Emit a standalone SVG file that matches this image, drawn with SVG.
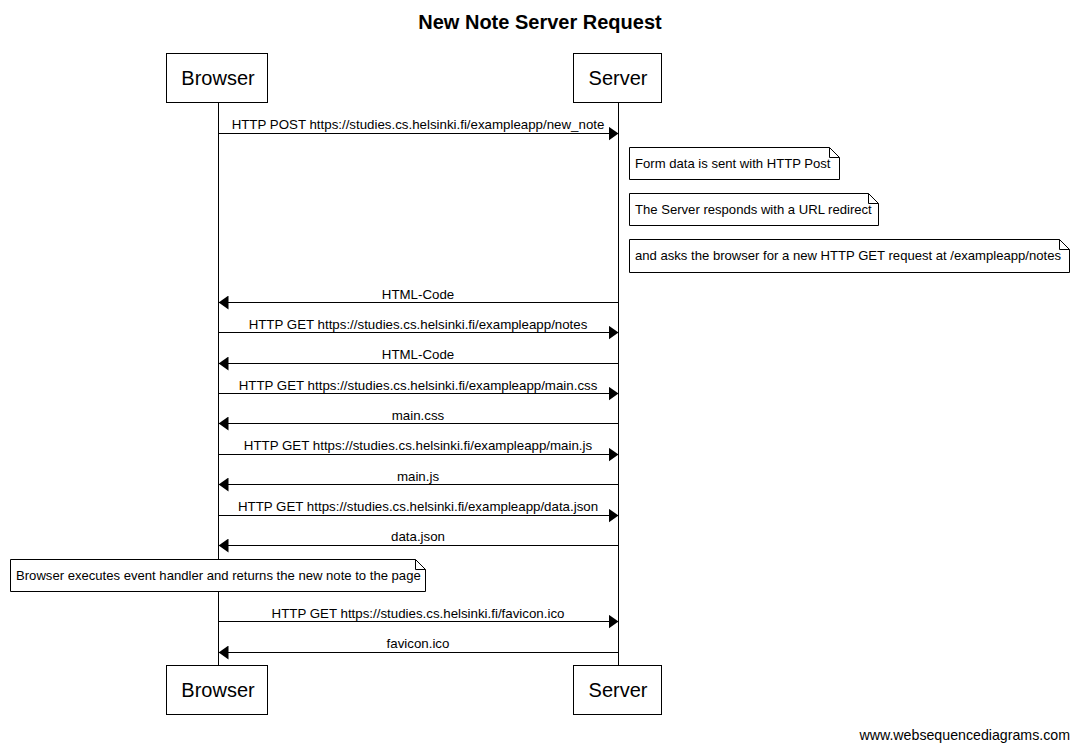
<svg xmlns="http://www.w3.org/2000/svg" width="1079" height="749" viewBox="0 0 1079 749">
<defs>
<marker id="ah" markerWidth="10" markerHeight="14" refX="10" refY="7" orient="auto" markerUnits="userSpaceOnUse">
<path d="M0,0 L10,7 L0,14 Z" fill="#000"/>
</marker>
<style>
.box{fill:#fff;stroke:#000;stroke-width:1}
.pt{font-family:"Liberation Sans",Arial,sans-serif;font-size:20px;text-anchor:middle}
.lbl{font-family:"Liberation Sans",Arial,sans-serif;font-size:13.3px;text-anchor:middle}
.nt{font-family:"Liberation Sans",Arial,sans-serif;font-size:13.1px}
.life{stroke:#000;stroke-width:1}
.msg{stroke:#000;stroke-width:1;fill:none;marker-end:url(#ah)}
.note{fill:#fff;stroke:#000;stroke-width:1}
</style>
</defs>
<rect width="1079" height="749" fill="#fff"/>
<text x="540" y="29" font-family="Liberation Sans,Arial,sans-serif" font-size="20" font-weight="bold" text-anchor="middle">New Note Server Request</text>
<g id="lifelines">
<line class="life" x1="218.5" y1="102" x2="218.5" y2="665"/>
<line class="life" x1="618.5" y1="102" x2="618.5" y2="665"/>
</g>
<g id="browser-top"><rect class="box" x="166.5" y="53.5" width="101" height="49"/><text class="pt" x="218" y="85">Browser</text></g>
<g id="server-top"><rect class="box" x="573.5" y="53.5" width="88" height="49"/><text class="pt" x="618" y="85">Server</text></g>
<g id="browser-bottom"><rect class="box" x="166.5" y="665.5" width="101" height="49"/><text class="pt" x="218" y="697">Browser</text></g>
<g id="server-bottom"><rect class="box" x="573.5" y="665.5" width="88" height="49"/><text class="pt" x="618" y="697">Server</text></g>
<g id="connectors">
<line class="msg" x1="218.5" y1="133.5" x2="618.5" y2="133.5"/>
<text class="lbl" x="418" y="129">HTTP POST https://studies.cs.helsinki.fi/exampleapp/new_note</text>
<line class="msg" x1="618.5" y1="302.5" x2="218.5" y2="302.5"/>
<text class="lbl" x="418" y="299">HTML-Code</text>
<line class="msg" x1="218.5" y1="332.5" x2="618.5" y2="332.5"/>
<text class="lbl" x="418" y="329">HTTP GET https://studies.cs.helsinki.fi/exampleapp/notes</text>
<line class="msg" x1="618.5" y1="363.5" x2="218.5" y2="363.5"/>
<text class="lbl" x="418" y="359">HTML-Code</text>
<line class="msg" x1="218.5" y1="393.5" x2="618.5" y2="393.5"/>
<text class="lbl" x="418" y="390">HTTP GET https://studies.cs.helsinki.fi/exampleapp/main.css</text>
<line class="msg" x1="618.5" y1="423.5" x2="218.5" y2="423.5"/>
<text class="lbl" x="418" y="420">main.css</text>
<line class="msg" x1="218.5" y1="454.5" x2="618.5" y2="454.5"/>
<text class="lbl" x="418" y="450">HTTP GET https://studies.cs.helsinki.fi/exampleapp/main.js</text>
<line class="msg" x1="618.5" y1="484.5" x2="218.5" y2="484.5"/>
<text class="lbl" x="418" y="481">main.js</text>
<line class="msg" x1="218.5" y1="515.5" x2="618.5" y2="515.5"/>
<text class="lbl" x="418" y="511">HTTP GET https://studies.cs.helsinki.fi/exampleapp/data.json</text>
<line class="msg" x1="618.5" y1="545.5" x2="218.5" y2="545.5"/>
<text class="lbl" x="418" y="541">data.json</text>
<line class="msg" x1="218.5" y1="621.5" x2="618.5" y2="621.5"/>
<text class="lbl" x="418" y="618">HTTP GET https://studies.cs.helsinki.fi/favicon.ico</text>
<line class="msg" x1="618.5" y1="652.5" x2="218.5" y2="652.5"/>
<text class="lbl" x="418" y="648">favicon.ico</text>
</g>
<g id="note1"><path class="note" d="M629.5,147.5 H829.5 L839.5,157.5 V179.5 H629.5 Z M829.5,147.5 V157.5 H839.5"/><text class="nt" x="635" y="168">Form data is sent with HTTP Post</text></g>
<g id="note2"><path class="note" d="M629.5,193.5 H868.5 L878.5,203.5 V225.5 H629.5 Z M868.5,193.5 V203.5 H878.5"/><text class="nt" x="635" y="214">The Server responds with a URL redirect</text></g>
<g id="note3"><path class="note" d="M629.5,239.5 H1059.5 L1069.5,249.5 V272.5 H629.5 Z M1059.5,239.5 V249.5 H1069.5"/><text class="nt" x="635" y="260">and asks the browser for a new HTTP GET request at /exampleapp/notes</text></g>
<g id="note4"><path class="note" d="M10.5,559.5 H415.5 L425.5,569.5 V591.5 H10.5 Z M415.5,559.5 V569.5 H425.5"/><text class="nt" x="16" y="580">Browser executes event handler and returns the new note to the page</text></g>
<text x="1070" y="740" font-family="Liberation Sans,Arial,sans-serif" font-size="14.2" text-anchor="end">www.websequencediagrams.com</text>
</svg>
